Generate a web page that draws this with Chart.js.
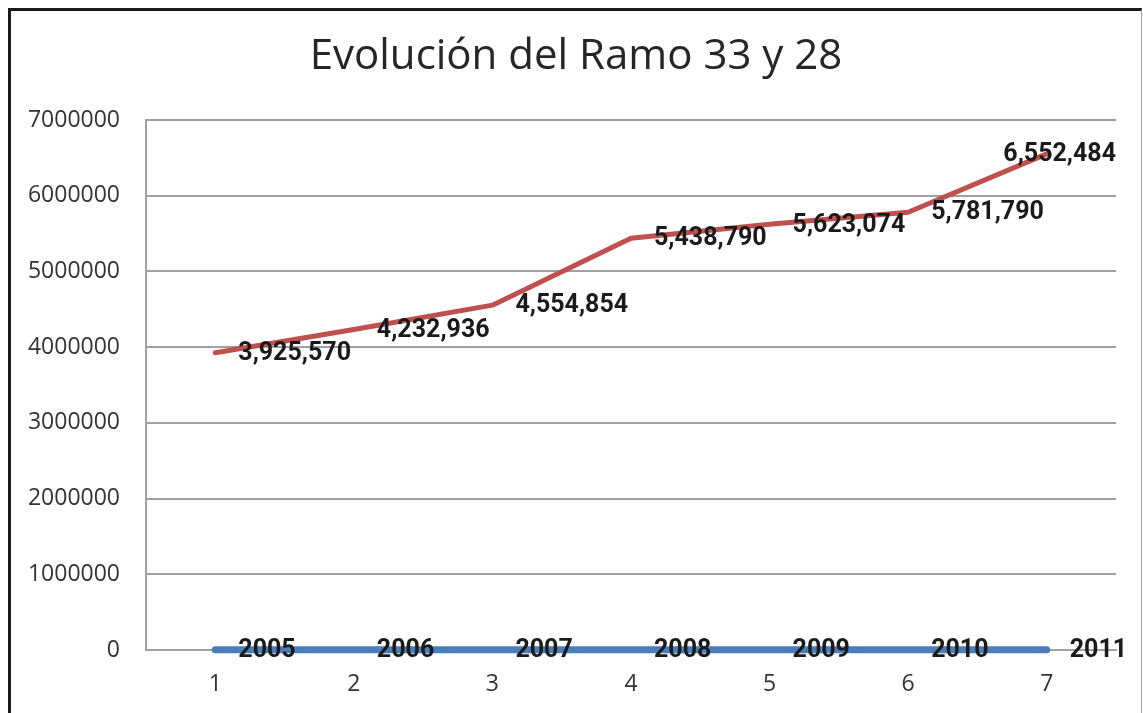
<!DOCTYPE html>
<html>
<head>
<meta charset="utf-8">
<script src="https://cdn.jsdelivr.net/npm/chart.js@4"></script>
<style>
    body { margin: 0; background: #fff; }
    #frame {
        position: absolute; left: 8px; top: 8px;
        width: 1134px; height: 705px;
        border-left: 3px solid #1a1a1a;
        border-top: 3px solid #1a1a1a;
        border-right: 1px solid #a0a0a0;
        box-sizing: border-box;
    }
</style>
</head>
<body>
<div id="frame"><canvas id="myLineChart"></canvas></div>
<script>
// datos de la grafica
const categories = ['1', '2', '3', '4', '5', '6', '7'];
const years = [2005, 2006, 2007, 2008, 2009, 2010, 2011];
const ramo = [3925570, 4232936, 4554854, 5438790, 5623074, 5781790, 6552484];
const yMax = 7000000;
const yStep = 1000000;

// etiquetas de datos a la derecha de cada punto
const pointLabels = {
    id: 'pointLabels',
    afterDatasetsDraw(chart) {
        const ctx = chart.ctx;
        const area = chart.chartArea;
        ctx.save();
        ctx.font = 'bold 25px Roboto';
        ctx.fillStyle = '#1a1a1a';
        ctx.textBaseline = 'middle';
        ctx.textAlign = 'left';
        chart.data.datasets.forEach((ds, i) => {
            const meta = chart.getDatasetMeta(i);
            meta.data.forEach((pt, j) => {
                const txt = ds.fmt(ds.data[j]);
                const w = ctx.measureText(txt).width;
                let x = pt.x + 23;
                if (ds.clamp && x + w > area.right) x = area.right - w;
                ctx.fillText(txt, x, pt.y + 1);
            });
        });
        ctx.restore();
    }
};

const ctxLine = document.getElementById('myLineChart').getContext('2d');
const myLineChart = new Chart(ctxLine, {
    type: 'line',
    data: {
        labels: categories,
        datasets: [{
            label: 'Año',
            data: years,
            borderColor: '#4a7ebb',
            borderWidth: 7,
            borderCapStyle: 'round',
            pointRadius: 0,
            clip: false,
            fmt: v => String(v),
            clamp: false
        }, {
            label: 'Ramo 33 y 28',
            data: ramo,
            borderColor: '#c0504d',
            borderWidth: 5,
            borderCapStyle: 'round',
            borderJoinStyle: 'round',
            pointRadius: 0,
            fmt: v => v.toLocaleString('en-US'),
            clamp: true
        }]
    },
    options: {
        responsive: true,
        maintainAspectRatio: false,
        animation: false,
        layout: { padding: 0 },
        plugins: {
            legend: { display: false },
            tooltip: { enabled: false },
            title: {
                display: true,
                text: 'Evolución del Ramo 33 y 28',
                color: '#262626',
                font: { family: 'Open Sans', size: 42, weight: 'normal' },
                padding: { top: 21, bottom: 37.6 }
            }
        },
        scales: {
            x: {
                offset: true,
                grid: { display: false, drawTicks: false },
                border: { display: true, color: '#a0a0a0', width: 2 },
                ticks: { color: '#333333', font: { family: 'Open Sans', size: 23 }, padding: 21 },
                afterFit: scale => { scale.height = 63; }
            },
            y: {
                min: 0,
                max: yMax,
                ticks: {
                    stepSize: yStep,
                    color: '#333333',
                    font: { family: 'Open Sans', size: 23 },
                    padding: 26,
                    callback: v => String(v)
                },
                grid: { color: '#a0a0a0', lineWidth: 2, drawTicks: false },
                border: { display: true, color: '#a0a0a0', width: 2 },
                afterFit: scale => { scale.width = 135; }
            },
            // margen derecho vacio
            yRight: {
                position: 'right',
                grid: { display: false, drawTicks: false },
                border: { display: false },
                ticks: { display: false },
                afterFit: scale => { scale.width = 25; }
            }
        }
    },
    plugins: [pointLabels]
});
</script>
</body>
</html>
